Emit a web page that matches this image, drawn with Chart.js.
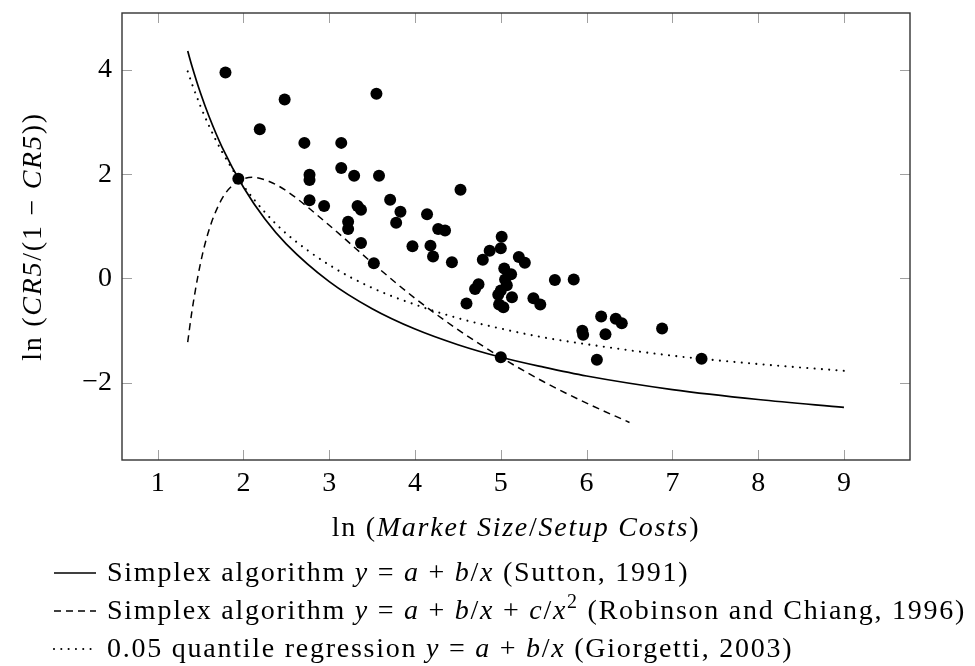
<!DOCTYPE html>
<html><head><meta charset="utf-8">
<script src="https://cdn.jsdelivr.net/npm/chart.js@4.4.1/dist/chart.umd.min.js"></script>
<style>html,body{margin:0;padding:0;background:#fff;}#wrap{width:975px;height:666px;}</style>
</head><body><div id="wrap"><canvas id="c" width="975" height="666"></canvas></div>
<script>
// ---- data ----
const scatterX = [1.79,2.48,3.55,2.19,2.71,3.14,1.94,2.77,2.77,3.14,3.29,3.58,4.53,2.77,2.94,3.33,3.37,3.71,3.83,3.78,3.22,3.22,4.14,4.27,4.35,3.37,3.97,4.18,4.21,4.43,3.52,5.01,5.00,4.87,4.79,5.21,5.28,5.04,5.12,5.05,5.07,5.63,5.85,4.74,4.70,4.60,4.97,5.13,4.98,5.03,5.00,5.38,5.46,6.17,6.34,6.41,5.95,5.96,6.22,6.88,6.12,7.34,5.00];
const scatterY = [3.95,3.43,3.54,2.86,2.60,2.60,1.91,1.99,1.89,2.12,1.97,1.97,1.70,1.50,1.39,1.39,1.32,1.51,1.28,1.07,1.09,0.95,1.23,0.95,0.92,0.68,0.62,0.63,0.42,0.31,0.29,0.80,0.58,0.53,0.36,0.41,0.30,0.19,0.08,-0.02,-0.13,-0.03,-0.02,-0.11,-0.20,-0.48,-0.31,-0.36,-0.50,-0.55,-0.23,-0.38,-0.50,-0.73,-0.77,-0.86,-1.00,-1.08,-1.07,-0.96,-1.56,-1.54,-1.51];

const suttonX = [1.35,1.4,1.5,1.6,1.75,2,2.25,2.5,3,3.5,4,4.5,5,5.5,6,7,8,9];
const suttonY = [4.36,4.07,3.55,3.10,2.52,1.75,1.14,0.66,-0.06,-0.58,-0.97,-1.27,-1.51,-1.70,-1.87,-2.13,-2.32,-2.47];

const robinsonX = [1.35,1.4,1.5,1.6,1.75,1.9,2.1,2.3,2.5,3,3.5,4,4.5,5,5.5,6,6.5];
const robinsonY = [-1.22,-0.62,0.30,0.94,1.53,1.82,1.94,1.86,1.68,1.02,0.30,-0.38,-0.98,-1.51,-1.98,-2.39,-2.76];

const giorgettiX = [1.35,1.4,1.5,1.6,1.75,2,2.25,2.5,3,3.5,4,4.5,5,5.5,6,7,8,9];
const giorgettiY = [3.97,3.73,3.30,2.92,2.43,1.78,1.27,0.86,0.26,-0.18,-0.50,-0.76,-0.96,-1.13,-1.26,-1.48,-1.64,-1.77];

const xTicks = [1,2,3,4,5,6,7,8,9];
const yTicks = [-2,0,2,4];

const legendRows = [
  [["Simplex algorithm ","r"],["y","i"],[" = ","r"],["a","i"],[" + ","r"],["b","i"],["/","r"],["x","i"],[" (Sutton, 1991)","r"]],
  [["Simplex algorithm ","r"],["y","i"],[" = ","r"],["a","i"],[" + ","r"],["b","i"],["/","r"],["x","i"],[" + ","r"],["c","i"],["/","r"],["x","i"],["2","s"],[" (Robinson and Chiang, 1996)","r"]],
  [["0.05 quantile regression ","r"],["y","i"],[" = ","r"],["a","i"],[" + ","r"],["b","i"],["/","r"],["x","i"],[" (Giorgetti, 2003)","r"]]
];
const xTitle = [["ln","r"],[" (","r"],["Market Size","i"],["/","r"],["Setup Costs","i"],[")","r"]];
const yTitle = [["ln","r"],[" (","r"],["CR5","i"],["/(1 \u2212 ","r"],["CR5","i"],["))","r"]];

// ---- styles ----
const DOT = [0.01, 7.3];
const DASH = [7, 5];
const legendStyles = [{dash:[],w:1.6,cap:'butt'}, {dash:DASH,w:1.5,cap:'butt'}, {dash:DOT,w:2.1,cap:'round'}];
const FAM = '"Liberation Serif","Times New Roman",serif';
const FS = 28;
const LS = '1.75px';
function fontFor(st){
  if(st==='i') return 'italic '+FS+'px '+FAM;
  if(st==='s') return Math.round(FS*0.7)+'px '+FAM;
  return FS+'px '+FAM;
}
function richWidth(ctx, segs){
  let w=0; segs.forEach(s=>{ctx.font=fontFor(s[1]); w+=ctx.measureText(s[0]).width;}); return w;
}
function drawRich(ctx, segs, x, y, align){
  ctx.letterSpacing = LS;
  let cx = x;
  if(align==='center') cx = x - richWidth(ctx, segs)/2;
  ctx.textBaseline='alphabetic'; ctx.textAlign='left'; ctx.fillStyle='#000';
  segs.forEach(s=>{
    ctx.font=fontFor(s[1]);
    const dy = s[1]==='s' ? -FS*0.38 : 0;
    ctx.fillText(s[0], cx, y+dy);
    cx += ctx.measureText(s[0]).width;
  });
  ctx.letterSpacing = '0px';
}

const deco = {
  id:'deco',
  afterDraw(chart){
    const ctx=chart.ctx, a=chart.chartArea, xs=chart.scales.x, ys=chart.scales.y;
    ctx.save();
    ctx.strokeStyle='#a0a0a0'; ctx.lineWidth=1;
    ctx.beginPath();
    xTicks.forEach(v=>{const p=Math.round(xs.getPixelForValue(v))+0.5;
      ctx.moveTo(p,a.bottom); ctx.lineTo(p,a.bottom-10);
      ctx.moveTo(p,a.top); ctx.lineTo(p,a.top+10);});
    yTicks.forEach(v=>{const p=Math.round(ys.getPixelForValue(v))+0.5;
      ctx.moveTo(a.left,p); ctx.lineTo(a.left+10,p);
      ctx.moveTo(a.right,p); ctx.lineTo(a.right-10,p);});
    ctx.stroke();
    ctx.strokeStyle='#333'; ctx.lineWidth=1.4;
    ctx.strokeRect(a.left,a.top,a.right-a.left,a.bottom-a.top);
    // axis titles
    drawRich(ctx, xTitle, (a.left+a.right)/2, 536, 'center');
    ctx.save(); ctx.translate(41,(a.top+a.bottom)/2); ctx.rotate(-Math.PI/2);
    drawRich(ctx, yTitle, 0, 0, 'center'); ctx.restore();
    // legend
    legendRows.forEach((row,i)=>{
      const base = 581 + i*38, st = legendStyles[i];
      ctx.strokeStyle='#000'; ctx.lineWidth=st.w; ctx.lineCap=st.cap; ctx.setLineDash(st.dash);
      ctx.beginPath(); ctx.moveTo(54, base-8); ctx.lineTo(96, base-8); ctx.stroke();
      ctx.setLineDash([]); ctx.lineCap='butt';
      drawRich(ctx, row, 107, base, 'left');
    });
    ctx.restore();
  }
};

const pts = (xa, ya) => xa.map((x,i)=>({x:x, y:ya[i]}));
const lineDs = (label, xa, ya, dash, w, cap) => ({
  type:'line', label, data:pts(xa,ya), borderColor:'#000', borderWidth:w, borderDash:dash, borderCapStyle:cap,
  pointRadius:0, fill:false, cubicInterpolationMode:'monotone', showLine:true
});

new Chart(document.getElementById('c'), {
  type:'scatter',
  data:{ datasets:[
    {type:'scatter', label:'data', data:pts(scatterX,scatterY), backgroundColor:'#000', borderColor:'#000', pointRadius:6, pointBorderWidth:0},
    lineDs('Sutton', suttonX, suttonY, [], 1.7, 'butt'),
    lineDs('Robinson', robinsonX, robinsonY, DASH, 1.5, 'butt'),
    lineDs('Giorgetti', giorgettiX, giorgettiY, DOT, 2.1, 'round')
  ]},
  options:{
    responsive:false, animation:false, events:[],
    layout:{padding:{top:13,right:65,left:0,bottom:0}},
    plugins:{legend:{display:false}, tooltip:{enabled:false}},
    scales:{
      x:{type:'linear', min:0.584, max:9.77,
        grid:{display:false, drawTicks:false}, border:{display:false},
        afterBuildTicks:s=>{s.ticks = xTicks.map(v=>({value:v}));},
        afterFit:s=>{s.height=206; s.paddingLeft=0; s.paddingRight=0;},
        ticks:{font:{family:FAM,size:FS}, color:'#000', padding:7, maxRotation:0, autoSkip:false}
      },
      y:{type:'linear', min:-3.48, max:5.09,
        grid:{display:false, drawTicks:false}, border:{display:false},
        afterBuildTicks:s=>{s.ticks = yTicks.map(v=>({value:v}));},
        afterFit:s=>{s.width=122; s.paddingTop=0; s.paddingBottom=0;},
        ticks:{font:{family:FAM,size:FS}, color:'#000', padding:10,
          callback:v=> v<0 ? '\u2212'+Math.abs(v) : String(v)}
      }
    }
  },
  plugins:[deco]
});
</script></body></html>
